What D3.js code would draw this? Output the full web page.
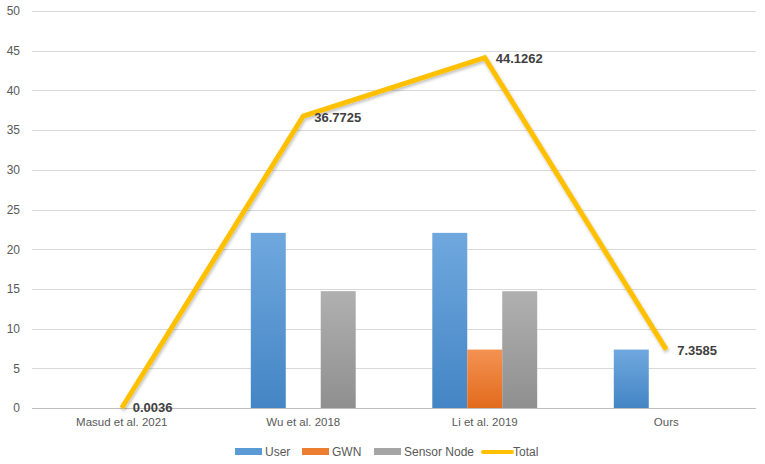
<!DOCTYPE html>
<html><head><meta charset="utf-8">
<script src="https://cdn.jsdelivr.net/npm/d3@7"></script>
<style>
html,body{margin:0;padding:0;background:#fff;}
svg{display:block;font-family:"Liberation Sans",Arial,sans-serif;}
</style></head>
<body>
<svg id="chart" width="765" height="464"></svg>
<script>
const categories = ["Masud et al. 2021", "Wu et al. 2018", "Li et al. 2019", "Ours"];
const seriesNames = ["User", "GWN", "Sensor Node"];
const userValues = [0.0012, 22.0575, 22.0575, 7.3585];
const gwnValues = [0.0012, 0, 7.3585, 0];
const sensorValues = [0.0012, 14.715, 14.7102, 0];
const totalValues = [0.0036, 36.7725, 44.1262, 7.3585];
const totalLabels = ["0.0036", "36.7725", "44.1262", "7.3585"];
const yTicks = [0, 5, 10, 15, 20, 25, 30, 35, 40, 45, 50];

(function () {
const colors = {"User": "#5B9BD5", "GWN": "#ED7D31", "Sensor Node": "#A5A5A5", "Total": "#FFC000"};
const grads = {"User": ["#6FA8DE", "#4485C5"], "GWN": ["#F49252", "#E26B1C"], "Sensor Node": ["#B0B0B0", "#8F8F8F"]};

const svg = d3.select("#chart");
const mLeft = 31, mRight = 757, mTop = 11, mBottom = 408;

const defs = svg.append("defs");
seriesNames.forEach((s, i) => {
  const g = defs.append("linearGradient").attr("id", "g" + i).attr("x1", 0).attr("y1", 0).attr("x2", 0).attr("y2", 1);
  g.append("stop").attr("offset", "0%").attr("stop-color", grads[s][0]);
  g.append("stop").attr("offset", "100%").attr("stop-color", grads[s][1]);
});
const f = defs.append("filter").attr("id", "sh").attr("x", "-10%").attr("y", "-10%").attr("width", "120%").attr("height", "120%");
f.append("feDropShadow").attr("dx", 1).attr("dy", 2).attr("stdDeviation", 1.5).attr("flood-color", "#000").attr("flood-opacity", 0.25);

const x0 = d3.scaleBand().domain(categories).range([mLeft, mRight]).paddingInner(0.422).paddingOuter(0.211);
const x1 = d3.scaleBand().domain(seriesNames).range([0, x0.bandwidth()]).padding(0);
const y = d3.scaleLinear().domain([0, 50]).range([mBottom, mTop]);

// gridlines
svg.append("g").selectAll("line").data(yTicks).join("line")
  .attr("x1", 32).attr("x2", 756)
  .attr("y1", d => Math.round(y(d)) + 0.5).attr("y2", d => Math.round(y(d)) + 0.5)
  .attr("stroke", d => d === 0 ? "#BFBFBF" : "#D9D9D9").attr("stroke-width", 1);

// y axis labels
const yAxis = d3.axisLeft(y).tickValues(yTicks).tickSize(0).tickPadding(0);
const ya = svg.append("g").attr("transform", "translate(20,0)").call(yAxis);
ya.select(".domain").remove();
ya.selectAll("text").attr("fill", "#595959").style("font-size", "12px").style("font-family", "'Liberation Sans',Arial,sans-serif");

// bars
const seriesVals = [userValues, gwnValues, sensorValues];
const barData = [];
categories.forEach((c, ci) => seriesNames.forEach((s, si) => barData.push({c, s, si, v: seriesVals[si][ci]})));
svg.append("g").selectAll("rect").data(barData).join("rect")
  .attr("x", d => x0(d.c) + x1(d.s))
  .attr("width", x1.bandwidth())
  .attr("y", d => y(d.v))
  .attr("height", d => y(0) - y(d.v))
  .attr("fill", d => `url(#g${d.si})`);

// x axis labels
const xAxis = d3.axisBottom(x0).tickSize(0).tickPadding(10);
const xa = svg.append("g").attr("transform", `translate(0,${mBottom})`).call(xAxis);
xa.select(".domain").remove();
xa.selectAll("text").attr("fill", "#595959").style("font-size", "11.5px").style("font-family", "'Liberation Sans',Arial,sans-serif");

// total line
const cx = c => x0(c) + x0.bandwidth() / 2;
const line = d3.line().x((d, i) => cx(categories[i])).y(d => y(d));
svg.append("path").datum(totalValues).attr("d", line)
  .attr("fill", "none").attr("stroke", colors.Total).attr("stroke-width", 5)
  .attr("stroke-linejoin", "miter").attr("stroke-linecap", "butt").attr("filter", "url(#sh)");

// data labels
svg.append("g").selectAll("text").data(totalValues).join("text")
  .attr("x", (d, i) => cx(categories[i]) + 11)
  .attr("y", (d, i) => y(d) + (i === 0 ? -0.5 : 1))
  .attr("dy", "0.35em")
  .attr("fill", "#404040").style("font-size", "13px").style("font-weight", "bold")
  .text((d, i) => totalLabels[i]);

// legend
const legendItems = [
  {name: "User", type: "rect", x: 235},
  {name: "GWN", type: "rect", x: 302},
  {name: "Sensor Node", type: "rect", x: 374},
  {name: "Total", type: "line", x: 483}
];
const lg = svg.append("g");
legendItems.forEach((it) => {
  if (it.type === "rect") {
    lg.append("rect").attr("x", it.x).attr("y", 448).attr("width", 27).attr("height", 7).attr("fill", colors[it.name]);
  } else {
    lg.append("line").attr("x1", it.x).attr("x2", it.x + 29).attr("y1", 452).attr("y2", 452)
      .attr("stroke", colors.Total).attr("stroke-width", 4).attr("stroke-linecap", "round");
  }
  lg.append("text").attr("x", it.x + 30).attr("y", 452).attr("dy", "0.35em")
    .attr("fill", "#595959").style("font-size", "12px").text(it.name);
});
})();
</script>
</body></html>
